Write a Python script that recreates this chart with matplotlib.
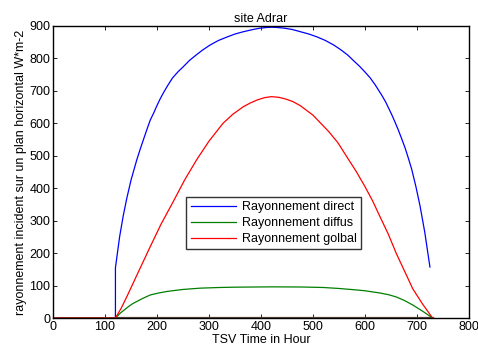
import matplotlib
matplotlib.use('Agg')
import matplotlib.pyplot as plt

# Données (TSV en heures, W/m2)
x_direct = [0, 120, 120, 128, 135, 142, 150, 161, 168, 175, 181, 187, 194, 200, 206, 212, 220, 230,
            240, 251, 262, 275, 288, 302, 318, 335, 350, 366, 382, 398, 410, 420, 432, 445, 460,
            476, 492, 508, 524, 540, 554, 567, 578, 590, 600, 610, 619, 627, 634, 640, 646, 652,
            658, 664, 670, 677, 683, 690, 698, 706, 715, 725]
y_direct = [0, 0, 155, 250, 315, 370, 425, 487, 522, 555, 583, 610, 633, 655, 675, 693, 715, 740,
            758, 775, 793, 810, 826, 841, 855, 866, 875, 882, 888, 893, 895, 896, 895, 893, 889,
            882, 875, 866, 855, 841, 826, 810, 793, 775, 758, 740, 720, 700, 682, 665, 645, 625,
            603, 580, 555, 525, 495, 458, 405, 345, 265, 157]

x_diffus = [0, 120, 125, 130, 138, 145, 152, 160, 172, 187, 203, 220, 250, 283, 320, 350, 420, 480,
            520, 550, 580, 600, 629, 645, 660, 676, 692, 702, 710, 720, 730]
y_diffus = [0, 0, 8, 16, 26, 35, 43, 50, 60, 71, 77, 82, 88, 92, 94, 95, 96, 95.5,
            94, 91, 87, 84, 77, 72, 65, 54, 40, 30, 22, 11, 0]

x_global = [0, 120, 131, 142, 165, 187, 208, 230, 253, 276, 300, 327, 346, 366, 380, 393, 407, 420,
            434, 447, 461, 475, 500, 530, 548, 565, 583, 600, 615, 629, 645, 660, 676, 692, 710, 730]
y_global = [0, 0, 30, 66, 145, 220, 290, 355, 425, 487, 545, 600, 628, 651, 663, 672, 679, 682,
            680, 675, 667, 655, 625, 575, 540, 497, 452, 405, 360, 312, 258, 200, 145, 90, 45, 0]

x_base = [120, 730]
y_base = [0, 0]

legend_labels = ['Rayonnement direct', 'Rayonnement diffus', 'Rayonnement golbal']

plt.rcParams['font.family'] = ['Liberation Sans', 'DejaVu Sans']
plt.rcParams['font.size'] = 9

fig = plt.figure(figsize=(4.78, 3.5), dpi=100)
ax = fig.add_axes([0.111, 0.0914, 0.87, 0.8346])

ax.plot(x_base, y_base, color='#5c4a38', linewidth=1.6)
ax.plot(x_direct, y_direct, color='#0000ff', linewidth=0.9, label=legend_labels[0])
ax.plot(x_diffus, y_diffus, color='#007f00', linewidth=0.9, label=legend_labels[1])
ax.plot(x_global, y_global, color='#ff0000', linewidth=0.9, label=legend_labels[2])

ax.set_xlim(0, 800)
ax.set_ylim(0, 900)
ax.set_xticks(range(0, 801, 100))
ax.set_yticks(range(0, 901, 100))
ax.tick_params(direction='in', top=True, right=True, length=3, width=0.6, labelsize=9, pad=2)
for s in ax.spines.values():
    s.set_linewidth(1.0)

ax.set_title('site Adrar', fontsize=9, pad=3)
ax.set_xlabel('TSV Time in Hour', fontsize=9, labelpad=1)
ax.set_ylabel('rayonnement incident sur un plan horizontal W*m-2', fontsize=9, labelpad=2)

leg = ax.legend(loc='upper left', bbox_to_anchor=(0.32, 0.414), fontsize=9, frameon=True,
                fancybox=False, handlelength=3.6, borderpad=0.35, labelspacing=0.3,
                handletextpad=0.5, borderaxespad=0)
leg.get_frame().set_edgecolor('black')
leg.get_frame().set_linewidth(1.0)

fig.savefig('out.png', dpi=100)
